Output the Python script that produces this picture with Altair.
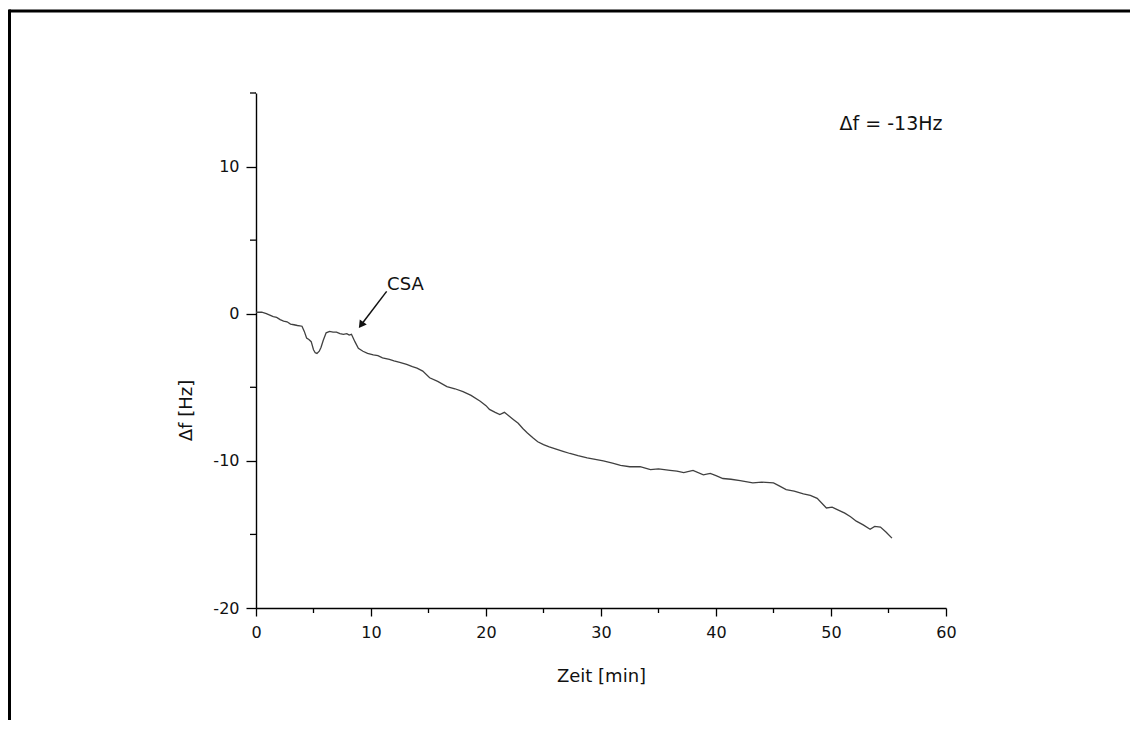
import altair as alt
import pandas as pd

# time [min] and frequency shift [Hz]
zeit = [0.0, 0.5, 0.9, 1.2, 1.5, 1.8, 2.1, 2.4, 2.7, 3.0, 3.3, 3.6, 4.0, 4.2, 4.4, 4.6, 4.8,
        5.0, 5.15, 5.3, 5.5, 5.65, 5.85, 6.1, 6.4, 6.7, 7.0, 7.3, 7.6, 7.9, 8.1, 8.3, 8.6,
        8.9, 9.3, 9.7, 10.2, 10.6, 11.0, 11.6, 12.0, 12.5, 13.1, 13.6, 14.0, 14.5, 15.1,
        15.8, 16.6, 17.3, 18.0, 18.7, 19.5, 20.0, 20.3, 20.8, 21.2, 21.6, 22.0, 22.4, 22.8,
        23.2, 23.6, 24.1, 24.5, 25.0, 25.5, 26.1, 26.7, 27.3, 28.0, 28.8, 29.5, 30.2, 31.0,
        31.7, 32.5, 33.4, 34.3, 35.0, 36.0, 36.6, 37.2, 38.0, 38.9, 39.5, 40.0, 40.6, 41.3,
        42.1, 43.2, 44.0, 45.0, 45.5, 46.1, 46.8, 47.6, 48.2, 48.8, 49.6, 50.1, 50.5, 51.2,
        51.7, 52.2, 52.8, 53.4, 53.8, 54.3, 54.8, 55.3]
df_hz = [0.10, 0.10, 0.0, -0.10, -0.20, -0.25, -0.40, -0.50, -0.55, -0.70, -0.75, -0.80, -0.85,
         -1.20, -1.65, -1.75, -1.90, -2.45, -2.65, -2.70, -2.55, -2.30, -1.80, -1.30, -1.20,
         -1.25, -1.25, -1.35, -1.40, -1.35, -1.45, -1.40, -1.90, -2.35, -2.55, -2.70, -2.80,
         -2.85, -3.00, -3.10, -3.20, -3.30, -3.45, -3.60, -3.70, -3.90, -4.35, -4.60, -4.95,
         -5.10, -5.30, -5.55, -5.95, -6.25, -6.50, -6.70, -6.85, -6.70, -6.95, -7.20, -7.45,
         -7.80, -8.10, -8.45, -8.70, -8.90, -9.05, -9.20, -9.35, -9.50, -9.65, -9.80, -9.90,
         -10.00, -10.15, -10.30, -10.40, -10.40, -10.60, -10.55, -10.65, -10.70, -10.80,
         -10.65, -10.95, -10.85, -11.00, -11.20, -11.25, -11.35, -11.50, -11.45, -11.50,
         -11.70, -11.95, -12.05, -12.25, -12.35, -12.55, -13.20, -13.15, -13.30, -13.55,
         -13.80, -14.10, -14.35, -14.65, -14.45, -14.50, -14.85, -15.25]

x_major = [0, 10, 20, 30, 40, 50, 60]
x_minor = [5, 15, 25, 35, 45, 55]
y_major = [-20, -10, 0, 10]
y_minor = [-15, -5, 5, 15]

# annotation: "CSA" label and arrow
csa_label = "CSA"
csa_text_pos = (11.4, 1.97)
csa_arrow_start = (11.36, 1.52)
csa_arrow_end = (9.2, -0.70)
csa_head_angle = 216
delta_label = "Δf = -13Hz"
delta_pos = (59.7, 12.9)

FONT = "DejaVu Sans"
W, H = 690, 515

data = pd.DataFrame({"t": zeit, "f": df_hz})

xs = alt.Scale(domain=[0, 60], nice=False)
ys = alt.Scale(domain=[-20, 15], nice=False)
x_axis = alt.Axis(values=x_major, labelExpr="'' + datum.value", tickSize=8, labelFlush=False,
                  labelPadding=8, titleX=W / 2, titleY=68, titleBaseline="middle",
                  titleAlign="center")
y_axis = alt.Axis(values=y_major, labelExpr="'' + datum.value", tickSize=10, labelFlush=False,
                  labelPadding=7, titleX=-70, titleY=317, titleBaseline="middle",
                  titleAlign="center", titleAngle=-90)


def X():
    return alt.X("t:Q", scale=xs, title="Zeit [min]", axis=x_axis)


def Y():
    return alt.Y("f:Q", scale=ys, title="Δf [Hz]", axis=y_axis)


line = alt.Chart(data).mark_line(color="#404040", strokeWidth=1.3).encode(x=X(), y=Y())

xminor = alt.Chart(pd.DataFrame({"t": x_minor})).mark_rule(color="black", strokeWidth=1.3).encode(
    x=X(), y=alt.value(H), y2=alt.value(H + 5)
)
yminor = alt.Chart(pd.DataFrame({"f": y_minor})).mark_rule(color="black", strokeWidth=1.3).encode(
    y=Y(), x=alt.value(0), x2=alt.value(-6)
)

arrow_df = pd.DataFrame({"t": [csa_arrow_start[0]], "f": [csa_arrow_start[1]],
                         "t2": [csa_arrow_end[0]], "f2": [csa_arrow_end[1]]})
arrow = alt.Chart(arrow_df).mark_rule(color="#111", strokeWidth=1.5).encode(
    x=X(), y=Y(), x2="t2:Q", y2="f2:Q"
)
head = alt.Chart(pd.DataFrame({"t": [csa_arrow_end[0]], "f": [csa_arrow_end[1]]})).mark_point(
    shape="triangle", filled=True, color="#111", opacity=1, size=75, angle=csa_head_angle
).encode(x=X(), y=Y())

texts_df = pd.DataFrame({"t": [csa_text_pos[0]], "f": [csa_text_pos[1]], "s": [csa_label]})
csa = alt.Chart(texts_df).mark_text(font=FONT, fontSize=18, align="left", baseline="middle",
                                    color="#111").encode(x=X(), y=Y(), text="s:N")

delta_df = pd.DataFrame({"t": [delta_pos[0]], "f": [delta_pos[1]], "s": [delta_label]})
delta = alt.Chart(delta_df).mark_text(font=FONT, fontSize=19, align="right", baseline="middle",
                                      color="#111").encode(x=X(), y=Y(), text="s:N")

# outer frame (cropped at right and bottom like the reference)
one = pd.DataFrame({"a": [0]})
frame_top = alt.Chart(one).mark_rule(color="black", strokeWidth=3).encode(
    x=alt.value(-247), x2=alt.value(W + 200), y=alt.value(-82))
frame_left = alt.Chart(one).mark_rule(color="black", strokeWidth=3).encode(
    x=alt.value(-246.5), y=alt.value(-83.5), y2=alt.value(H + 130))

chart = alt.layer(line, xminor, yminor, arrow, head, csa, delta, frame_top, frame_left).properties(
    width=W, height=H,
    autosize=alt.AutoSizeParams(type="none"),
    padding={"left": 248, "top": 85, "right": 184, "bottom": 112},
).configure_view(stroke=None).configure_axis(
    grid=False, domainColor="black", domainWidth=1.4, tickColor="black", tickWidth=1.3,
    labelFont=FONT, labelFontSize=16, labelColor="#111",
    titleFont=FONT, titleFontSize=18, titleFontWeight="normal", titleColor="#111",
)

chart.save("out.html", embed_options={"renderer": "svg", "actions": False})
